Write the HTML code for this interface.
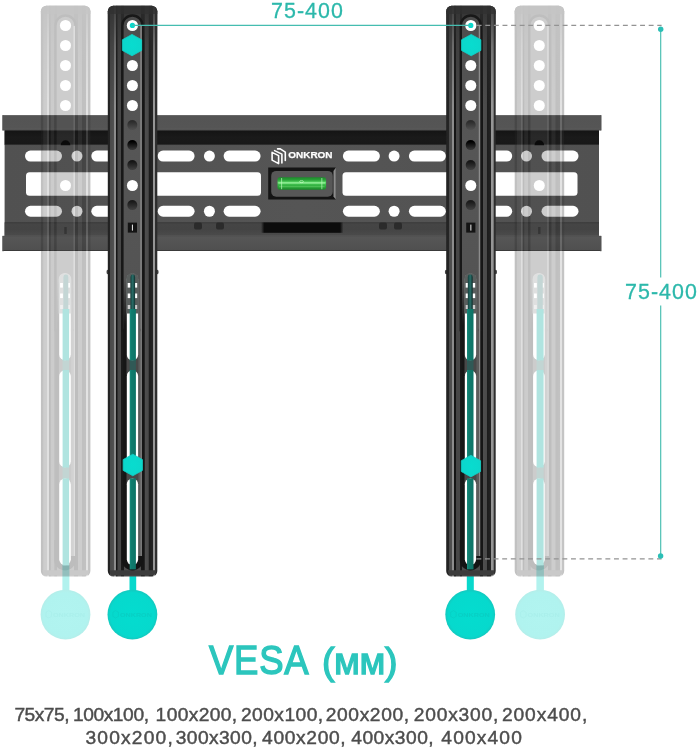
<!DOCTYPE html>
<html lang="ru">
<head>
<meta charset="utf-8">
<title>VESA (мм)</title>
<style>
html,body{margin:0;padding:0;background:#fff;}
body{width:699px;height:750px;position:relative;overflow:hidden;font-family:"Liberation Sans",sans-serif;}
svg{position:absolute;left:0;top:0;display:block;will-change:transform;}
.lbl{will-change:transform;position:absolute;color:#2cb8ab;font-size:21.4px;line-height:22px;white-space:nowrap;letter-spacing:1.05px;-webkit-text-stroke:0.3px #2cb8ab;}
#l1{left:271.2px;top:0.1px;}
#l2{left:624.6px;top:280.6px;}
h1{will-change:transform;position:absolute;left:0;top:634.9px;width:699px;height:50px;margin:0;color:#2cc6bd;font-size:40.5px;line-height:50px;font-weight:400;white-space:nowrap;-webkit-text-stroke:1.4px #2cc6bd;}
h1 span{position:absolute;top:0;transform-origin:0 39px;}
h1 .a{left:208.85px;letter-spacing:0.86px;transform:scaleX(0.9);}
h1 .b{left:322.3px;letter-spacing:-0.5px;transform:scale(0.93,0.93);}
p{will-change:transform;position:absolute;left:0;top:702.8px;width:699px;margin:0;color:#4d4d4d;font-size:19.2px;line-height:23.1px;white-space:nowrap;-webkit-text-stroke:0.45px #4d4d4d;}
p span{position:absolute;top:0;}
p span.l2{top:23.1px;}
p .g0{left:14.40px;letter-spacing:-0.50px;}
p .g1{left:72.90px;letter-spacing:-0.41px;}
p .g2{left:155.60px;letter-spacing:0.38px;}
p .g3{left:240.90px;letter-spacing:0.48px;}
p .g4{left:325.80px;letter-spacing:0.61px;}
p .g5{left:413.80px;letter-spacing:0.78px;}
p .g6{left:501.90px;letter-spacing:0.92px;}
p .g7{left:85.45px;letter-spacing:1.20px;}
p .g8{left:175.75px;letter-spacing:0.41px;}
p .g9{left:262.05px;letter-spacing:0.67px;}
p .g10{left:351.25px;letter-spacing:0.50px;}
p .g11{left:441.35px;letter-spacing:1.14px;}
</style>
</head>
<body>
<svg width="699" height="750" viewBox="0 0 699 750" font-family="'Liberation Sans', sans-serif">
<defs>
<linearGradient id="barg" x1="0" y1="0" x2="1" y2="0"><stop offset="0.0000" stop-color="#222222"/><stop offset="0.0465" stop-color="#242424"/><stop offset="0.0545" stop-color="#4a4a4a"/><stop offset="0.1192" stop-color="#505050"/><stop offset="0.1253" stop-color="#8c8c8c"/><stop offset="0.1556" stop-color="#8c8c8c"/><stop offset="0.1616" stop-color="#151515"/><stop offset="0.1919" stop-color="#151515"/><stop offset="0.2000" stop-color="#464646"/><stop offset="0.2707" stop-color="#484848"/><stop offset="0.2768" stop-color="#1a1a1a"/><stop offset="0.3172" stop-color="#1a1a1a"/><stop offset="0.3232" stop-color="#4c4c4c"/><stop offset="0.6727" stop-color="#4c4c4c"/><stop offset="0.6788" stop-color="#161616"/><stop offset="0.7394" stop-color="#161616"/><stop offset="0.7475" stop-color="#4e4e4e"/><stop offset="0.8202" stop-color="#4a4a4a"/><stop offset="0.8283" stop-color="#1c1c1c"/><stop offset="0.9091" stop-color="#242424"/><stop offset="0.9152" stop-color="#969696"/><stop offset="0.9535" stop-color="#969696"/><stop offset="0.9596" stop-color="#303030"/><stop offset="1.0000" stop-color="#2a2a2a"/></linearGradient>
<linearGradient id="bargG" x1="0" y1="0" x2="1" y2="0"><stop offset="0.0000" stop-color="#282828"/><stop offset="0.0465" stop-color="#2a2a2a"/><stop offset="0.0545" stop-color="#505050"/><stop offset="0.1192" stop-color="#565656"/><stop offset="0.1253" stop-color="#929292"/><stop offset="0.1556" stop-color="#929292"/><stop offset="0.1616" stop-color="#1b1b1b"/><stop offset="0.1919" stop-color="#1b1b1b"/><stop offset="0.2000" stop-color="#4c4c4c"/><stop offset="0.2707" stop-color="#4e4e4e"/><stop offset="0.2768" stop-color="#202020"/><stop offset="0.3172" stop-color="#202020"/><stop offset="0.3232" stop-color="#525252"/><stop offset="0.6727" stop-color="#525252"/><stop offset="0.6788" stop-color="#1c1c1c"/><stop offset="0.7394" stop-color="#1c1c1c"/><stop offset="0.7475" stop-color="#545454"/><stop offset="0.8202" stop-color="#505050"/><stop offset="0.8283" stop-color="#222222"/><stop offset="0.9091" stop-color="#2a2a2a"/><stop offset="0.9152" stop-color="#9c9c9c"/><stop offset="0.9535" stop-color="#9c9c9c"/><stop offset="0.9596" stop-color="#363636"/><stop offset="1.0000" stop-color="#303030"/></linearGradient>
<linearGradient id="tstrip" x1="0" y1="0" x2="1" y2="0"><stop offset="0.0000" stop-color="#188c7c"/><stop offset="0.3000" stop-color="#0f7b6d"/><stop offset="1.0000" stop-color="#0d7467"/></linearGradient>
<linearGradient id="lipT" x1="0" y1="0" x2="0" y2="1"><stop offset="0.0000" stop-color="#3c3c3c"/><stop offset="0.0700" stop-color="#545454"/><stop offset="0.8500" stop-color="#555"/><stop offset="0.9300" stop-color="#5c5c5c"/><stop offset="1.0000" stop-color="#2a2a2a"/></linearGradient>
<linearGradient id="lipB" x1="0" y1="0" x2="0" y2="1"><stop offset="0.0000" stop-color="#505050"/><stop offset="0.1000" stop-color="#565656"/><stop offset="0.9000" stop-color="#505050"/><stop offset="1.0000" stop-color="#303030"/></linearGradient>
<linearGradient id="bandT" x1="0" y1="0" x2="0" y2="1"><stop offset="0.0000" stop-color="#303030"/><stop offset="0.0800" stop-color="#151515"/><stop offset="0.5000" stop-color="#1a1a1a"/><stop offset="0.9300" stop-color="#181818"/><stop offset="1.0000" stop-color="#484848"/></linearGradient>
<linearGradient id="bandB" x1="0" y1="0" x2="0" y2="1"><stop offset="0.0000" stop-color="#303030"/><stop offset="0.1000" stop-color="#454545"/><stop offset="0.5000" stop-color="#444"/><stop offset="0.9000" stop-color="#4a4a4a"/><stop offset="1.0000" stop-color="#585858"/></linearGradient>
<linearGradient id="green" x1="0" y1="0" x2="0" y2="1"><stop offset="0.0000" stop-color="#1d8a2b"/><stop offset="0.2200" stop-color="#2aa339"/><stop offset="0.4200" stop-color="#5fdc6a"/><stop offset="0.5800" stop-color="#3cbc4a"/><stop offset="0.8000" stop-color="#27a036"/><stop offset="1.0000" stop-color="#1b8529"/></linearGradient>
<radialGradient id="hexg" cx="0.5" cy="0.5" r="0.6"><stop offset="0" stop-color="#08dccf"/><stop offset="1" stop-color="#0cd6cb"/></radialGradient>
<radialGradient id="disc" cx="0.5" cy="0.5" r="0.5"><stop offset="0" stop-color="#04dccf"/><stop offset="0.88" stop-color="#06d9cd"/><stop offset="1" stop-color="#14c9bf"/></radialGradient>
<radialGradient id="discG" cx="0.5" cy="0.5" r="0.5"><stop offset="0" stop-color="#b1f4f0"/><stop offset="0.88" stop-color="#b0f3ef"/><stop offset="1" stop-color="#b4eeea"/></radialGradient>
<pattern id="springp" width="4" height="1.6" patternUnits="userSpaceOnUse"><rect width="4" height="1.6" fill="#12544f"/><rect y="0.8" width="4" height="0.8" fill="#3a9a92"/></pattern>
<linearGradient id="spring" x1="0" y1="0" x2="1" y2="0"><stop offset="0" stop-color="#143f3c"/><stop offset="0.5" stop-color="#2a6f69"/><stop offset="1" stop-color="#0e2e2c"/></linearGradient>
<linearGradient id="chan" gradientUnits="userSpaceOnUse" x1="0" y1="0" x2="0" y2="576"><stop offset="0" stop-color="#484848"/><stop offset="0.1" stop-color="#525252"/><stop offset="0.25" stop-color="#565656"/><stop offset="0.45" stop-color="#545454"/><stop offset="1" stop-color="#4a4a4a"/></linearGradient>
<linearGradient id="shade" gradientUnits="userSpaceOnUse" x1="0" y1="6" x2="0" y2="106"><stop offset="0" stop-color="#303030" stop-opacity="0.85"/><stop offset="0.12" stop-color="#303030" stop-opacity="0.7"/><stop offset="0.4" stop-color="#303030" stop-opacity="0.35"/><stop offset="1" stop-color="#303030" stop-opacity="0"/></linearGradient>
<linearGradient id="face" x1="0" y1="0" x2="1" y2="0"><stop offset="0" stop-color="#515151"/><stop offset="0.5" stop-color="#555"/><stop offset="1" stop-color="#515151"/></linearGradient>
<linearGradient id="hole5" x1="0" y1="0" x2="0" y2="1"><stop offset="0.15" stop-color="#2c2c2c"/><stop offset="0.9" stop-color="#4e4e4e"/></linearGradient>
<linearGradient id="hole6" x1="0" y1="0" x2="0" y2="1"><stop offset="0.15" stop-color="#000"/><stop offset="0.9" stop-color="#363636"/></linearGradient>
<linearGradient id="hole7" x1="0" y1="0" x2="0" y2="1"><stop offset="0.15" stop-color="#161616"/><stop offset="0.9" stop-color="#3e3e3e"/></linearGradient>
<linearGradient id="hole9" x1="0" y1="0" x2="0" y2="1"><stop offset="0.15" stop-color="#1a1a1a"/><stop offset="0.9" stop-color="#3e3e3e"/></linearGradient>
<linearGradient id="fadeg" gradientUnits="userSpaceOnUse" x1="0" y1="280" x2="0" y2="325"><stop offset="0" stop-color="#000"/><stop offset="1" stop-color="#fff"/></linearGradient>
<mask id="fade" maskUnits="userSpaceOnUse" x="0" y="250" width="699" height="340"><rect x="0" y="250" width="699" height="340" fill="url(#fadeg)"/></mask>
<linearGradient id="bandC" x1="0" y1="0" x2="1" y2="0"><stop offset="0" stop-color="#0c0c0c" stop-opacity="0"/><stop offset="0.04" stop-color="#0c0c0c" stop-opacity="1"/><stop offset="0.96" stop-color="#0c0c0c" stop-opacity="1"/><stop offset="1" stop-color="#0c0c0c" stop-opacity="0"/></linearGradient>
</defs>
<g>
<rect x="2.5" y="115.2" width="598.8" height="15.2" fill="url(#lipT)"/>
<rect x="4.6" y="130" width="594.4" height="107" fill="url(#face)"/>
<rect x="4.6" y="130.2" width="594.4" height="14.9" fill="url(#bandT)"/>
<rect x="4.6" y="222.4" width="594.4" height="13.8" fill="url(#bandB)"/>
<rect x="261" y="222.4" width="82.4" height="10.4" fill="url(#bandC)"/>
<rect x="194" y="222.6" width="8" height="7" rx="2" fill="#1a1a1a" opacity="0.6"/>
<rect x="216" y="222.6" width="8" height="7" rx="2" fill="#1a1a1a" opacity="0.6"/>
<rect x="379" y="222.6" width="8" height="7" rx="2" fill="#1a1a1a" opacity="0.6"/>
<rect x="394" y="222.6" width="8" height="7" rx="2" fill="#1a1a1a" opacity="0.6"/>
<rect x="2.5" y="235.8" width="598.8" height="15.2" fill="url(#lipB)"/>
<rect x="2.5" y="115.2" width="1" height="15.2" fill="#555"/>
<rect x="600.3" y="115.2" width="1" height="15.2" fill="#555"/>
<rect x="2.5" y="236" width="1" height="15.3" fill="#555"/>
<rect x="600.3" y="236" width="1" height="15.3" fill="#555"/>
<rect x="25" y="150.6" width="37" height="10.9" rx="5.45" fill="#fff"/>
<rect x="541.5" y="150.6" width="37" height="10.9" rx="5.45" fill="#fff"/>
<rect x="91.3" y="150.6" width="37" height="10.9" rx="5.45" fill="#fff"/>
<rect x="475.2" y="150.6" width="37" height="10.9" rx="5.45" fill="#fff"/>
<rect x="157.6" y="150.6" width="37" height="10.9" rx="5.45" fill="#fff"/>
<rect x="408.9" y="150.6" width="37" height="10.9" rx="5.45" fill="#fff"/>
<rect x="223.6" y="150.6" width="37" height="10.9" rx="5.45" fill="#fff"/>
<rect x="342.9" y="150.6" width="37" height="10.9" rx="5.45" fill="#fff"/>
<rect x="71.5" y="150.55" width="11" height="11" rx="5.5" fill="#fff"/>
<rect x="521" y="150.55" width="11" height="11" rx="5.5" fill="#fff"/>
<rect x="137.8" y="150.55" width="11" height="11" rx="5.5" fill="#fff"/>
<rect x="454.7" y="150.55" width="11" height="11" rx="5.5" fill="#fff"/>
<rect x="203.9" y="150.55" width="11" height="11" rx="5.5" fill="#fff"/>
<rect x="388.6" y="150.55" width="11" height="11" rx="5.5" fill="#fff"/>
<rect x="25" y="205.8" width="37" height="10.9" rx="5.45" fill="#fff"/>
<rect x="541.5" y="205.8" width="37" height="10.9" rx="5.45" fill="#fff"/>
<rect x="91.3" y="205.8" width="37" height="10.9" rx="5.45" fill="#fff"/>
<rect x="475.2" y="205.8" width="37" height="10.9" rx="5.45" fill="#fff"/>
<rect x="157.6" y="205.8" width="37" height="10.9" rx="5.45" fill="#fff"/>
<rect x="408.9" y="205.8" width="37" height="10.9" rx="5.45" fill="#fff"/>
<rect x="223.6" y="205.8" width="37" height="10.9" rx="5.45" fill="#fff"/>
<rect x="342.9" y="205.8" width="37" height="10.9" rx="5.45" fill="#fff"/>
<rect x="71.5" y="205.75" width="11" height="11" rx="5.5" fill="#fff"/>
<rect x="521" y="205.75" width="11" height="11" rx="5.5" fill="#fff"/>
<rect x="137.8" y="205.75" width="11" height="11" rx="5.5" fill="#fff"/>
<rect x="454.7" y="205.75" width="11" height="11" rx="5.5" fill="#fff"/>
<rect x="203.9" y="205.75" width="11" height="11" rx="5.5" fill="#fff"/>
<rect x="388.6" y="205.75" width="11" height="11" rx="5.5" fill="#fff"/>
<rect x="26" y="172.2" width="235" height="23.6" rx="3.5" fill="#fff"/>
<rect x="342.5" y="172.2" width="235" height="23.6" rx="3.5" fill="#fff"/>
<rect x="268.2" y="167.5" width="67.6" height="32" fill="#141414"/>
<path d="M333.5 171 l2.3 -3.5 v32 l-2.3 -3z" fill="#8c8c8c"/>
<rect x="271.2" y="170.9" width="61.6" height="25.8" rx="5" fill="#575757"/>
<rect x="277.5" y="177.3" width="48.6" height="12.5" rx="2.2" fill="url(#green)"/>
<rect x="278.4" y="182.4" width="46.8" height="1.1" fill="#aef7ae" opacity="0.85"/>
<rect x="279" y="186.4" width="45.6" height="0.8" fill="#7fe57f" opacity="0.6"/>
<rect x="281.2" y="178" width="0.9" height="11.2" fill="#b9f7b9" opacity="0.8"/>
<rect x="321.4" y="178" width="0.9" height="11.2" fill="#b9f7b9" opacity="0.8"/>
<ellipse cx="301.5" cy="181.6" rx="2" ry="1" fill="none" stroke="#c9fbc9" stroke-width="0.6"/>
<g fill="none" stroke="#fff" stroke-width="1.6" stroke-linejoin="round" stroke-linecap="round"><path d="M272.1 152.4 L278.6 155.6 V163.6 L272.1 160.1z"/><path d="M274.6 150.6 L281.9 154.1 V162.9"/><path d="M277.6 148.9 L279.9 148.7 L285.3 152.2 V160.5"/></g>
<text x="288.3" y="158.4" font-size="9.5" font-weight="700" fill="#fff" stroke="#fff" stroke-width="0.25" textLength="44.2" lengthAdjust="spacingAndGlyphs">ONKRON</text>
</g>
<g>
<rect x="62.4" y="565" width="7" height="31" fill="#b2f2ee"/>
<circle cx="65.5" cy="614.6" r="24.9" fill="url(#discG)"/>
<text x="53" y="616.8" font-size="6" font-weight="700" fill="#aaefeb" textLength="32" lengthAdjust="spacingAndGlyphs">ONKRON</text>
<path d="M45.9 612.2 l2.8-1.6 2.8 1.6 v4.2 l-2.8 1.6 -2.8-1.6z" fill="none" stroke="#aaefeb" stroke-width="0.8"/>
<g opacity="0.29">
<rect x="40.9" y="5.8" width="49.5" height="570.8" rx="5.5" fill="url(#bargG)"/>
<rect x="40.9" y="5.8" width="49.5" height="110" rx="5.5" fill="url(#shade)"/>
<path d="M40.9 14 v-2.7 a5.5 5.5 0 0 1 5.5-5.5 h38.5 a5.5 5.5 0 0 1 5.5 5.5 v2.7 z" fill="#363636" opacity="0.7"/>
<path d="M55.5 330 V25.5 a10 10 0 0 1 20 0 V330z" fill="#525252" stroke="#1e1e1e" stroke-width="2.4"/>
<path d="M74.2 562 V26" fill="none" stroke="#929292" stroke-width="1.5"/>
<g mask="url(#fade)">
<rect x="56.5" y="262" width="3.1" height="300" fill="#1c1c1c"/>
<rect x="70.5" y="262" width="3" height="300" fill="#626262"/>
</g>
<path d="M42.4 570.2 H88.9 V571.7 a3.8 3.8 0 0 1 -3.8 3.8 H46.7 a3.8 3.8 0 0 1 -3.8 -3.8z" fill="#424242"/>
<path d="M56.7 540 V559.6 a8.3 8.3 0 0 0 16.6 0 V556" fill="none" stroke="#1a1a1a" stroke-width="5" stroke-linecap="butt"/>
<rect x="58.9" y="355" width="12.2" height="20" fill="#4e4e4e"/>
<rect x="58.9" y="462" width="12.2" height="22" fill="#4e4e4e"/>
</g>
<circle cx="65.5" cy="25.5" r="5.6" fill="#fff"/>
<circle cx="65.5" cy="45.5" r="5.5" fill="#fff"/>
<circle cx="65.5" cy="65.5" r="5.5" fill="#fff"/>
<circle cx="65.5" cy="85.5" r="5.5" fill="#fff"/>
<circle cx="65.5" cy="105.5" r="5.5" fill="#fff"/>
<path d="M60.7 145.2 a4.8 5 0 0 1 9.6 0z" fill="#050505" opacity="0.85"/>
<circle cx="65.5" cy="185.5" r="5.5" fill="#fff"/>
<rect x="64.3" y="227" width="2.4" height="7" fill="#222" opacity="0.5"/>
<rect x="59.2" y="273.5" width="11.6" height="86.8" rx="5.8" fill="#fff"/>
<path d="M58.7 313.5 V279.3 a6.3 6.3 0 0 1 12.6 0 V313.5 z" fill="#dfe0e0"/>
<rect x="60.1" y="283" width="2.8" height="4.6" fill="#fff"/>
<rect x="67.1" y="283" width="2.8" height="4.6" fill="#fff"/>
<rect x="60.1" y="293.5" width="2.8" height="4.6" fill="#fff"/>
<rect x="67.1" y="293.5" width="2.8" height="4.6" fill="#fff"/>
<rect x="60.1" y="305" width="2.8" height="4" fill="#f0f0f0"/>
<rect x="67.1" y="305" width="2.8" height="4" fill="#f0f0f0"/>
<rect x="63.4" y="274.5" width="4.9" height="38" rx="2.4" fill="#c4d6d5"/>
<rect x="59.2" y="370.3" width="11.6" height="97" rx="5.8" fill="#fff"/>
<rect x="59.2" y="478.6" width="11.6" height="86.4" rx="5.8" fill="#fff"/>
<rect x="62.6" y="309" width="6.5" height="51.5" fill="#b0e4e0"/>
<rect x="62.6" y="370" width="6.5" height="97.5" fill="#b0e4e0"/>
<rect x="62.6" y="478.4" width="6.5" height="87" fill="#b0e4e0"/>
<rect x="62.6" y="360.5" width="6.5" height="9.8" fill="#b0e4e0" opacity="0.35"/>
<rect x="62.6" y="466.5" width="6.5" height="12" fill="#b0e4e0" opacity="0.35"/>
</g>
<g>
<rect x="536.4" y="565" width="7.5" height="31" fill="#b2f2ee"/>
<circle cx="540.1" cy="614.6" r="24.9" fill="url(#discG)"/>
<text x="527.6" y="616.8" font-size="6" font-weight="700" fill="#aaefeb" textLength="32" lengthAdjust="spacingAndGlyphs">ONKRON</text>
<path d="M520.5 612.2 l2.8-1.6 2.8 1.6 v4.2 l-2.8 1.6 -2.8-1.6z" fill="none" stroke="#aaefeb" stroke-width="0.8"/>
<g opacity="0.29">
<rect x="514.7" y="5.8" width="49.5" height="570.8" rx="5.5" fill="url(#bargG)"/>
<rect x="514.7" y="5.8" width="49.5" height="110" rx="5.5" fill="url(#shade)"/>
<path d="M514.7 14 v-2.7 a5.5 5.5 0 0 1 5.5-5.5 h38.5 a5.5 5.5 0 0 1 5.5 5.5 v2.7 z" fill="#363636" opacity="0.7"/>
<path d="M529.3 330 V25.5 a10 10 0 0 1 20 0 V330z" fill="#525252" stroke="#1e1e1e" stroke-width="2.4"/>
<path d="M548 562 V26" fill="none" stroke="#929292" stroke-width="1.5"/>
<g mask="url(#fade)">
<rect x="530.3" y="262" width="3.2" height="300" fill="#1c1c1c"/>
<rect x="544.4" y="262" width="2.9" height="300" fill="#626262"/>
</g>
<path d="M516.2 570.2 H562.7 V571.7 a3.8 3.8 0 0 1 -3.8 3.8 H520.5 a3.8 3.8 0 0 1 -3.8 -3.8z" fill="#424242"/>
<path d="M530.6 540 V559.6 a8.3 8.3 0 0 0 16.6 0 V556" fill="none" stroke="#1a1a1a" stroke-width="5" stroke-linecap="butt"/>
<rect x="532.8" y="355" width="12.2" height="20" fill="#4e4e4e"/>
<rect x="532.8" y="462" width="12.2" height="22" fill="#4e4e4e"/>
</g>
<circle cx="539.3" cy="25.5" r="5.6" fill="#fff"/>
<circle cx="539.3" cy="45.5" r="5.5" fill="#fff"/>
<circle cx="539.3" cy="65.5" r="5.5" fill="#fff"/>
<circle cx="539.3" cy="85.5" r="5.5" fill="#fff"/>
<circle cx="539.3" cy="105.5" r="5.5" fill="#fff"/>
<path d="M534.5 145.2 a4.8 5 0 0 1 9.6 0z" fill="#050505" opacity="0.85"/>
<circle cx="539.3" cy="185.5" r="5.5" fill="#fff"/>
<rect x="538.1" y="227" width="2.4" height="7" fill="#222" opacity="0.5"/>
<rect x="533.1" y="273.5" width="11.6" height="86.8" rx="5.8" fill="#fff"/>
<path d="M532.6 313.5 V279.3 a6.3 6.3 0 0 1 12.6 0 V313.5 z" fill="#dfe0e0"/>
<rect x="534" y="283" width="2.8" height="4.6" fill="#fff"/>
<rect x="541" y="283" width="2.8" height="4.6" fill="#fff"/>
<rect x="534" y="293.5" width="2.8" height="4.6" fill="#fff"/>
<rect x="541" y="293.5" width="2.8" height="4.6" fill="#fff"/>
<rect x="534" y="305" width="2.8" height="4" fill="#f0f0f0"/>
<rect x="541" y="305" width="2.8" height="4" fill="#f0f0f0"/>
<rect x="537.4" y="274.5" width="5.4" height="38" rx="2.4" fill="#c4d6d5"/>
<rect x="533.1" y="370.3" width="11.6" height="97" rx="5.8" fill="#fff"/>
<rect x="533.1" y="478.6" width="11.6" height="86.4" rx="5.8" fill="#fff"/>
<rect x="536.6" y="309" width="7" height="51.5" fill="#b0e4e0"/>
<rect x="536.6" y="370" width="7" height="97.5" fill="#b0e4e0"/>
<rect x="536.6" y="478.4" width="7" height="87" fill="#b0e4e0"/>
<rect x="536.6" y="360.5" width="7" height="9.8" fill="#b0e4e0" opacity="0.35"/>
<rect x="536.6" y="466.5" width="7" height="12" fill="#b0e4e0" opacity="0.35"/>
</g>
<g>
<rect x="129.5" y="574" width="6.7" height="20" fill="#08d8cc"/>
<circle cx="132.4" cy="614.6" r="24.9" fill="url(#disc)"/>
<text x="119.9" y="616.8" font-size="6" font-weight="700" fill="#08cfc4" textLength="32" lengthAdjust="spacingAndGlyphs">ONKRON</text>
<path d="M112.8 612.2 l2.8-1.6 2.8 1.6 v4.2 l-2.8 1.6 -2.8-1.6z" fill="none" stroke="#08cfc4" stroke-width="0.8"/>
<ellipse cx="107.8" cy="272" rx="1.3" ry="2.2" fill="#444"/>
<ellipse cx="157.3" cy="272" rx="1.3" ry="2.2" fill="#444"/>
<rect x="107.8" y="5.8" width="49.5" height="570.8" rx="5.5" fill="url(#barg)"/>
<rect x="107.8" y="5.8" width="49.5" height="110" rx="5.5" fill="url(#shade)"/>
<path d="M107.8 14 v-2.7 a5.5 5.5 0 0 1 5.5-5.5 h38.5 a5.5 5.5 0 0 1 5.5 5.5 v2.7 z" fill="#303030" opacity="0.7"/>
<path d="M122.4 330 V25.5 a10 10 0 0 1 20 0 V330z" fill="url(#chan)" stroke="#181818" stroke-width="2.4"/>
<path d="M141.1 562 V26" fill="none" stroke="#8c8c8c" stroke-width="1.5"/>
<g mask="url(#fade)">
<rect x="123.4" y="262" width="3.8" height="300" fill="#161616"/>
<rect x="137.8" y="262" width="2.6" height="300" fill="#5c5c5c"/>
</g>
<path d="M109.3 570.2 H155.8 V571.7 a3.8 3.8 0 0 1 -3.8 3.8 H113.6 a3.8 3.8 0 0 1 -3.8 -3.8z" fill="#3c3c3c"/>
<path d="M124.3 540 V559.75 a8.15 8.15 0 0 0 16.3 0 V556" fill="none" stroke="#141414" stroke-width="5" stroke-linecap="butt"/>
<rect x="126.5" y="355" width="11.9" height="20" fill="#484848"/>
<rect x="126.5" y="462" width="11.9" height="22" fill="#484848"/>
<circle cx="132.4" cy="25.5" r="5.6" fill="#fff"/>
<circle cx="132.4" cy="65.5" r="5.5" fill="#fff"/>
<circle cx="132.4" cy="85.5" r="5.5" fill="#fff"/>
<circle cx="132.4" cy="105.5" r="5.5" fill="#fff"/>
<circle cx="132.3" cy="125.1" r="5" fill="url(#hole5)"/>
<circle cx="132.3" cy="145.1" r="5" fill="url(#hole6)"/>
<circle cx="132.3" cy="165.1" r="5" fill="url(#hole7)"/>
<circle cx="132.4" cy="185.5" r="5.5" fill="#fff"/>
<circle cx="132.3" cy="205.1" r="5" fill="url(#hole9)"/>
<rect x="127.8" y="222.6" width="9.2" height="10" fill="#141414"/>
<rect x="131.9" y="224.6" width="1.1" height="6" fill="#ddd"/>
<rect x="126.8" y="273.5" width="11.3" height="86.8" rx="5.65" fill="#fff"/>
<path d="M126.3 313.5 V279.15 a6.15 6.15 0 0 1 12.3 0 V313.5 z" fill="#595e5d"/>
<rect x="127.7" y="283" width="2.8" height="4.6" fill="#fff"/>
<rect x="134.4" y="283" width="2.8" height="4.6" fill="#fff"/>
<rect x="127.7" y="293.5" width="2.8" height="4.6" fill="#fff"/>
<rect x="134.4" y="293.5" width="2.8" height="4.6" fill="#fff"/>
<rect x="127.7" y="305" width="2.8" height="4" fill="#ccc"/>
<rect x="134.4" y="305" width="2.8" height="4" fill="#ccc"/>
<rect x="130.5" y="274.5" width="4.6" height="38" rx="2.4" fill="url(#spring)"/>
<rect x="126.8" y="370.3" width="11.3" height="97" rx="5.65" fill="#fff"/>
<rect x="126.8" y="478.6" width="11.3" height="86.4" rx="5.65" fill="#fff"/>
<rect x="129.7" y="309" width="6.2" height="51.5" fill="url(#tstrip)"/>
<rect x="129.7" y="370" width="6.2" height="97.5" fill="url(#tstrip)"/>
<rect x="129.7" y="478.4" width="6.2" height="91" fill="url(#tstrip)"/>
<rect x="129.7" y="360.5" width="6.2" height="9.5" fill="#1d6863" opacity="0.55"/>
<polygon points="132,34.4 141.65,39.75 141.65,50.45 132,55.8 122.35,50.45 122.35,39.75" fill="url(#hexg)" stroke="#10d0c6" stroke-width="0.8" stroke-linejoin="round"/>
<polygon points="132.8,454.2 142.45,459.6 142.45,470.4 132.8,475.8 123.15,470.4 123.15,459.6" fill="url(#hexg)" stroke="#10d0c6" stroke-width="0.8" stroke-linejoin="round"/>
<circle cx="132.4" cy="25.4" r="2.6" fill="#08d8cc"/>
</g>
<g>
<rect x="466.8" y="574" width="7" height="20" fill="#08d8cc"/>
<circle cx="470.2" cy="614.6" r="24.9" fill="url(#disc)"/>
<text x="457.7" y="616.8" font-size="6" font-weight="700" fill="#08cfc4" textLength="32" lengthAdjust="spacingAndGlyphs">ONKRON</text>
<path d="M450.6 612.2 l2.8-1.6 2.8 1.6 v4.2 l-2.8 1.6 -2.8-1.6z" fill="none" stroke="#08cfc4" stroke-width="0.8"/>
<ellipse cx="446.2" cy="272" rx="1.3" ry="2.2" fill="#444"/>
<ellipse cx="495.7" cy="272" rx="1.3" ry="2.2" fill="#444"/>
<rect x="446.2" y="5.8" width="49.5" height="570.8" rx="5.5" fill="url(#barg)"/>
<rect x="446.2" y="5.8" width="49.5" height="110" rx="5.5" fill="url(#shade)"/>
<path d="M446.2 14 v-2.7 a5.5 5.5 0 0 1 5.5-5.5 h38.5 a5.5 5.5 0 0 1 5.5 5.5 v2.7 z" fill="#303030" opacity="0.7"/>
<path d="M460.8 330 V25.5 a10 10 0 0 1 20 0 V330z" fill="url(#chan)" stroke="#181818" stroke-width="2.4"/>
<path d="M479.5 562 V26" fill="none" stroke="#8c8c8c" stroke-width="1.5"/>
<g mask="url(#fade)">
<rect x="461.8" y="262" width="3.4" height="300" fill="#161616"/>
<rect x="475.8" y="262" width="3" height="300" fill="#5c5c5c"/>
</g>
<path d="M447.7 570.2 H494.2 V571.7 a3.8 3.8 0 0 1 -3.8 3.8 H452 a3.8 3.8 0 0 1 -3.8 -3.8z" fill="#3c3c3c"/>
<path d="M462.3 540 V559.75 a8.15 8.15 0 0 0 16.3 0 V556" fill="none" stroke="#141414" stroke-width="5" stroke-linecap="butt"/>
<rect x="464.5" y="355" width="11.9" height="20" fill="#484848"/>
<rect x="464.5" y="462" width="11.9" height="22" fill="#484848"/>
<circle cx="470.8" cy="25.5" r="5.6" fill="#fff"/>
<circle cx="470.8" cy="65.5" r="5.5" fill="#fff"/>
<circle cx="470.8" cy="85.5" r="5.5" fill="#fff"/>
<circle cx="470.8" cy="105.5" r="5.5" fill="#fff"/>
<circle cx="470.7" cy="125.1" r="5" fill="url(#hole5)"/>
<circle cx="470.7" cy="145.1" r="5" fill="url(#hole6)"/>
<circle cx="470.7" cy="165.1" r="5" fill="url(#hole7)"/>
<circle cx="470.8" cy="185.5" r="5.5" fill="#fff"/>
<circle cx="470.7" cy="205.1" r="5" fill="url(#hole9)"/>
<rect x="466.2" y="222.6" width="9.2" height="10" fill="#141414"/>
<rect x="470.3" y="224.6" width="1.1" height="6" fill="#ddd"/>
<rect x="464.8" y="273.5" width="11.3" height="86.8" rx="5.65" fill="#fff"/>
<path d="M464.3 313.5 V279.15 a6.15 6.15 0 0 1 12.3 0 V313.5 z" fill="#595e5d"/>
<rect x="465.7" y="283" width="2.8" height="4.6" fill="#fff"/>
<rect x="472.4" y="283" width="2.8" height="4.6" fill="#fff"/>
<rect x="465.7" y="293.5" width="2.8" height="4.6" fill="#fff"/>
<rect x="472.4" y="293.5" width="2.8" height="4.6" fill="#fff"/>
<rect x="465.7" y="305" width="2.8" height="4" fill="#ccc"/>
<rect x="472.4" y="305" width="2.8" height="4" fill="#ccc"/>
<rect x="467.8" y="274.5" width="4.9" height="38" rx="2.4" fill="url(#spring)"/>
<rect x="464.8" y="370.3" width="11.3" height="97" rx="5.65" fill="#fff"/>
<rect x="464.8" y="478.6" width="11.3" height="86.4" rx="5.65" fill="#fff"/>
<rect x="467" y="309" width="6.5" height="51.5" fill="url(#tstrip)"/>
<rect x="467" y="370" width="6.5" height="97.5" fill="url(#tstrip)"/>
<rect x="467" y="478.4" width="6.5" height="91" fill="url(#tstrip)"/>
<rect x="467" y="360.5" width="6.5" height="9.5" fill="#1d6863" opacity="0.55"/>
<polygon points="471.2,34.4 480.85,39.75 480.85,50.45 471.2,55.8 461.55,50.45 461.55,39.75" fill="url(#hexg)" stroke="#10d0c6" stroke-width="0.8" stroke-linejoin="round"/>
<polygon points="470.9,455.3 480.55,460.7 480.55,471.5 470.9,476.9 461.25,471.5 461.25,460.7" fill="url(#hexg)" stroke="#10d0c6" stroke-width="0.8" stroke-linejoin="round"/>
<circle cx="470.8" cy="25.4" r="2.6" fill="#08d8cc"/>
</g>
<path d="M132.4 25.4 H471" stroke="#45bdb0" stroke-width="1.15" fill="none"/>
<path d="M476.7 25.4 H661.6" stroke="#939393" stroke-width="1.15" stroke-dasharray="4.9 3.7" fill="none"/>
<path d="M476.4 558.9 H661.6" stroke="#939393" stroke-width="1.15" stroke-dasharray="4.9 3.7" fill="none"/>
<path d="M660.7 29 V277.6 M660.7 305.6 V556" stroke="#45bdb0" stroke-width="1.15" fill="none"/>
<circle cx="660.7" cy="29.2" r="2.7" fill="#2bbfb6"/>
<circle cx="660.6" cy="556" r="2.7" fill="#2bbfb6"/>
</svg>
<div class="lbl" id="l1">75-400</div>
<div class="lbl" id="l2">75-400</div>
<h1><span class="a">VESA</span> <span class="b">(мм)</span></h1>
<p><span class="g0">75x75,</span> <span class="g1">100x100,</span> <span class="g2">100x200,</span> <span class="g3">200x100,</span> <span class="g4">200x200,</span> <span class="g5">200x300,</span> <span class="g6">200x400,</span> <span class="g7 l2">300x200,</span> <span class="g8 l2">300x300,</span> <span class="g9 l2">400x200,</span> <span class="g10 l2">400x300,</span> <span class="g11 l2">400x400</span></p>
</body>
</html>
